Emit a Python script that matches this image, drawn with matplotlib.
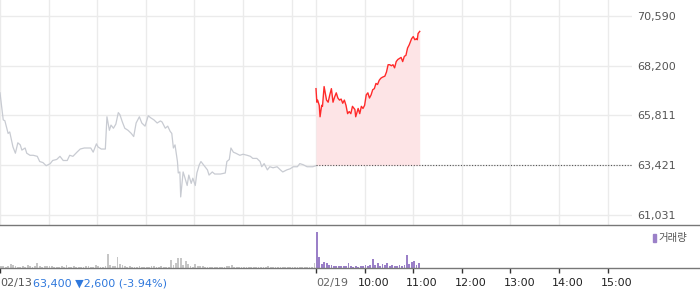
import matplotlib
matplotlib.use('Agg')
import matplotlib.pyplot as plt
import matplotlib.transforms as mtransforms
import numpy as np

# 분 단위 위치: 02/13 09:00 = 0, 02/19 09:00 = 390
prev_t = [0, 4, 6, 10, 12, 16, 19, 22, 25, 27, 31, 33, 37, 41, 46, 49, 53, 57, 62, 65,
          70, 74, 78, 83, 86, 90, 95, 99, 104, 109, 112, 115, 119, 121, 125, 130, 132, 135, 137, 140,
          143, 146, 148, 151, 154, 158, 162, 165, 168, 172, 175, 179, 183, 186, 190, 194, 198, 200, 204, 207,
          210, 212, 214, 216, 219, 220, 222, 223, 226, 228, 231, 233, 236, 238, 241, 243, 246, 248, 251, 253,
          256, 258, 262, 265, 272, 278, 280, 283, 285, 288, 291, 296, 300, 305, 309, 312, 317, 321, 323, 326,
          330, 333, 337, 342, 346, 349, 354, 358, 362, 367, 370, 374, 379, 386, 390]
prev_price = [66900, 65600, 65560, 64950, 65020, 64300, 64000, 64500, 64400, 64150, 64250, 64000, 63900, 63900, 63850, 63600, 63550, 63400, 63500, 63650,
              63700, 63850, 63650, 63650, 63900, 63850, 64050, 64200, 64250, 64250, 64250, 64050, 64450, 64300, 64200, 64200, 65750, 65100, 65350, 65200,
              65400, 65950, 65850, 65500, 65200, 65100, 64950, 64800, 65450, 65750, 65450, 65300, 65800, 65700, 65600, 65450, 65550, 65500, 65200, 65300,
              65050, 64950, 64250, 64400, 63600, 63050, 63100, 61900, 63100, 62850, 62450, 62950, 62550, 62800, 62450, 63050, 63450, 63600, 63450, 63350,
              63200, 62950, 63100, 63000, 63000, 63050, 63600, 63700, 64250, 64050, 64000, 63900, 63950, 63900, 63850, 63750, 63750, 63600, 63350, 63500,
              63200, 63350, 63300, 63350, 63200, 63100, 63200, 63250, 63350, 63350, 63500, 63450, 63350, 63350, 63400]

cur_t = [390, 391, 392, 394, 395, 397, 398, 400, 403, 405, 407, 409, 411, 413, 415, 417, 419, 421, 423, 425,
         427, 429, 431, 433, 435, 438, 439, 442, 444, 446, 448, 450, 452, 454, 456, 458, 460, 462, 464, 466,
         468, 470, 472, 475, 477, 479, 481, 483, 485, 487, 489, 491, 493, 495, 497, 499, 501, 503, 505, 508,
         510, 512, 514, 515, 516, 518]
cur_price = [67100, 66450, 66550, 66300, 65750, 66300, 66250, 67200, 66550, 66450, 66800, 67100, 66450, 66700, 66900, 66650, 66550, 66600, 66400, 66550,
             66300, 65900, 66000, 65900, 66250, 66100, 65750, 66150, 65900, 66250, 66150, 66300, 66800, 66900, 66650, 66800, 67050, 67100, 67350, 67300,
             67500, 67600, 67650, 67700, 67900, 68250, 68250, 68200, 68250, 68100, 68400, 68500, 68550, 68600, 68400, 68650, 68700, 69050, 69200, 69500,
             69600, 69450, 69500, 69450, 69750, 69850]

base_price = 63421
y_ticks = [61031, 63421, 65811, 68200, 70590]

# 거래량 (천 주, 3분 단위)
prev_vol = [2, 2, 1.5, 2, 4.3, 3, 2.5, 1.5, 1.5, 2, 1.5, 3.3, 2,
            1.5, 2, 4.7, 2, 1.5, 2.5, 2, 2, 2, 1.5, 1, 1, 2,
            1, 2.7, 1.5, 1, 2, 1.5, 1, 1, 1.5, 2, 2, 1.5, 1,
            2.7, 2, 1.5, 1.5, 2, 13.7, 3, 2.5, 2, 10.7, 4, 3.5, 2.5,
            1.5, 2, 1, 1, 1.5, 2, 1, 1, 1, 1.5, 2, 2, 1,
            1, 2, 1, 1, 1.5, 7.7, 3, 5, 10, 10, 3.3, 6.7, 4,
            2, 1.5, 3.7, 2, 2, 2, 1.5, 1.5, 1.5, 1.5, 1.5, 1, 1.5,
            1.5, 1.5, 2, 2, 2.7, 1, 1.5, 1.5, 1, 1.5, 1, 1, 1,
            1.5, 1, 1, 1, 1, 1.5, 2, 1.5, 1, 1.5, 1, 1, 1.5,
            1, 1, 1.5, 1.5, 1, 1, 1.5, 1, 1, 1, 1, 1, 5.3]
cur_vol = [36, 11, 4, 6, 5.3, 3.5, 3, 2.5, 2, 2, 2, 2.5, 2, 4.7, 2,
           1.5, 2, 1.5, 2, 2.5, 3, 2, 3.5, 9, 3, 4.7, 2.5, 4, 3, 5.3,
           2.5, 3, 2, 2.5, 3, 2.5, 3, 13, 4, 6, 6.7, 3.5, 5]

day_ticks = [0, 390, 450, 510, 570, 630, 690, 750]
time_labels = ["10:00", "11:00", "12:00", "13:00", "14:00", "15:00"]

GRID = '#ebebeb'
AXIS = '#777777'

fig = plt.figure(figsize=(7.0, 2.89), dpi=100)
W, H = 700.0, 289.0

# 가격 패널
ax = fig.add_axes([0, (H - 225) / H, 632 / W, 225 / H])
ax.set_xlim(0, 780)
ax.set_ylim(60552, 71358)
for s in ax.spines.values():
    s.set_visible(False)
ax.set_xticks([0, 60, 120, 180, 240, 300, 360, 390, 450, 510, 570, 630, 690, 750])
ax.set_yticks(y_ticks)
ax.set_yticklabels([f"{v:,}" for v in y_ticks])
ax.yaxis.tick_right()
ax.tick_params(axis='y', length=0, pad=4, labelsize=8, labelcolor='#555555')
ax.tick_params(axis='x', length=0, labelbottom=False)
ax.grid(True, color=GRID, linewidth=1)
ax.set_axisbelow(True)

ax.plot(prev_t, prev_price, color='#c8cbd2', linewidth=0.9)
ax.fill_between(cur_t, cur_price, base_price, color='#fde4e6', linewidth=0)
ax.plot(cur_t, cur_price, color='#ff2a2a', linewidth=1)
ax.plot([390, 780], [base_price, base_price], color='#555555', linewidth=0.8,
        linestyle=(0, (1, 1.5)))

# 거래량 패널
vax = fig.add_axes([0, (H - 268) / H, 1.0, 43 / H])
vax.set_xlim(0, 780 * W / 632)
vax.set_ylim(0, 43)
prev_x = np.arange(len(prev_vol)) * 3
cur_x = 390 + np.arange(len(cur_vol)) * 3
vax.bar(prev_x, prev_vol, width=2.2, align='edge', color='#c6c6c6', linewidth=0)
vax.bar(cur_x, cur_vol, width=2.2, align='edge', color='#9b80c8', linewidth=0)
for side in ['left', 'right']:
    vax.spines[side].set_visible(False)
for side in ['top', 'bottom']:
    vax.spines[side].set_color(AXIS)
    vax.spines[side].set_linewidth(1)
vax.set_yticks([])
vax.set_xticks(day_ticks)
vax.set_xticklabels([])
vax.tick_params(axis='x', direction='out', length=3.5, width=1, color='#333333')

# 범례
fig.patches.append(plt.Rectangle((653 / W, 1 - 242 / H), 2.5 / W, 8 / H,
                                 transform=fig.transFigure, color='#9b80c8'))
fig.text(658 / W, 1 - 238 / H, '거래량', fontsize=7.5, color='#555555', va='center',
         family=['Noto Sans CJK KR', 'DejaVu Sans'])

# 아래쪽 날짜/시간 라벨
ly = 1 - 283 / H
fig.text(0, ly, '02/13', fontsize=8, color='#555555', va='center')
fig.text(33 / W, ly, '63,400 ▼2,600 (-3.94%)', fontsize=8, color='#2f78dc', va='center')
trans = mtransforms.blended_transform_factory(vax.transData, fig.transFigure)
fig.text(390, ly, '02/19', fontsize=8, color='#666666', va='center', ha='left',
         transform=trans)
off = mtransforms.offset_copy(trans, fig=fig, x=-7, y=0, units='dots')
for t, lab in zip(day_ticks[2:], time_labels):
    fig.text(t, ly, lab, fontsize=8, color='#222222', va='center', ha='left',
             transform=off)

fig.savefig('out.png', dpi=100)
